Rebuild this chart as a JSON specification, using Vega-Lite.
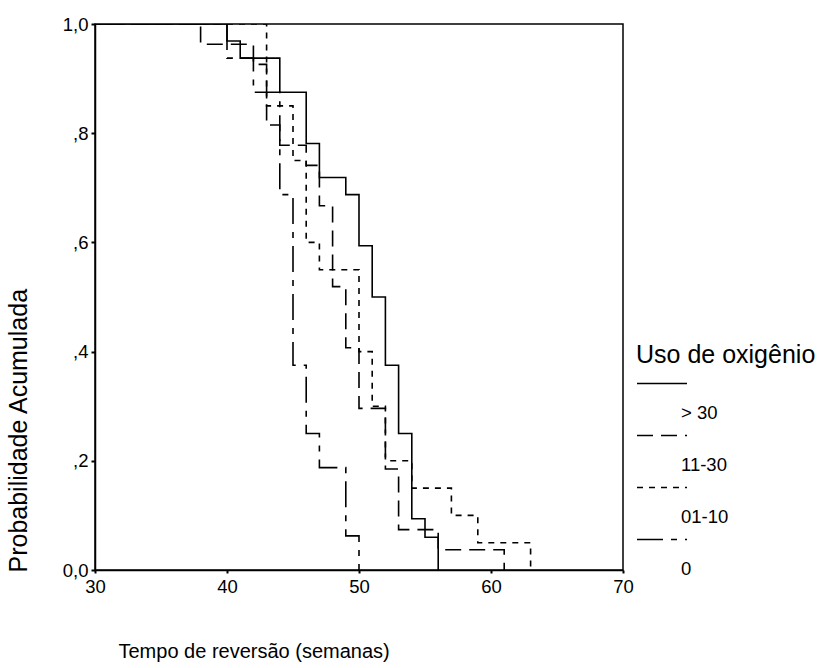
{
  "$schema": "https://vega.github.io/schema/vega-lite/v6.json",
  "width": 528,
  "height": 546,
  "autosize": {"type": "none"},
  "padding": {"left": 95, "top": 24, "right": 201, "bottom": 98},
  "background": "white",
  "config": {"font": "Liberation Sans", "view": {"stroke": "black", "strokeWidth": 1.5}},
  "data": {
    "values": [
      {"grupo": "> 30", "tempo": 0, "prob": 1},
      {"grupo": "> 30", "tempo": 40, "prob": 0.969},
      {"grupo": "> 30", "tempo": 41, "prob": 0.9375},
      {"grupo": "> 30", "tempo": 44, "prob": 0.875},
      {"grupo": "> 30", "tempo": 46, "prob": 0.781},
      {"grupo": "> 30", "tempo": 47, "prob": 0.719},
      {"grupo": "> 30", "tempo": 49, "prob": 0.6875},
      {"grupo": "> 30", "tempo": 50, "prob": 0.594},
      {"grupo": "> 30", "tempo": 51, "prob": 0.5},
      {"grupo": "> 30", "tempo": 52, "prob": 0.375},
      {"grupo": "> 30", "tempo": 53, "prob": 0.25},
      {"grupo": "> 30", "tempo": 54, "prob": 0.094},
      {"grupo": "> 30", "tempo": 55, "prob": 0.06},
      {"grupo": "> 30", "tempo": 56, "prob": 0},
      {"grupo": "11-30", "tempo": 0, "prob": 1},
      {"grupo": "11-30", "tempo": 38, "prob": 0.963},
      {"grupo": "11-30", "tempo": 42, "prob": 0.926},
      {"grupo": "11-30", "tempo": 43, "prob": 0.815},
      {"grupo": "11-30", "tempo": 44, "prob": 0.778},
      {"grupo": "11-30", "tempo": 46, "prob": 0.741},
      {"grupo": "11-30", "tempo": 47, "prob": 0.667},
      {"grupo": "11-30", "tempo": 48, "prob": 0.519},
      {"grupo": "11-30", "tempo": 49, "prob": 0.407},
      {"grupo": "11-30", "tempo": 50, "prob": 0.296},
      {"grupo": "11-30", "tempo": 52, "prob": 0.185},
      {"grupo": "11-30", "tempo": 53, "prob": 0.074},
      {"grupo": "11-30", "tempo": 56, "prob": 0.037},
      {"grupo": "11-30", "tempo": 61, "prob": 0},
      {"grupo": "01-10", "tempo": 0, "prob": 1},
      {"grupo": "01-10", "tempo": 43, "prob": 0.85},
      {"grupo": "01-10", "tempo": 45, "prob": 0.75},
      {"grupo": "01-10", "tempo": 46, "prob": 0.6},
      {"grupo": "01-10", "tempo": 47, "prob": 0.55},
      {"grupo": "01-10", "tempo": 50, "prob": 0.4},
      {"grupo": "01-10", "tempo": 51, "prob": 0.3},
      {"grupo": "01-10", "tempo": 52, "prob": 0.2},
      {"grupo": "01-10", "tempo": 54, "prob": 0.15},
      {"grupo": "01-10", "tempo": 57, "prob": 0.1},
      {"grupo": "01-10", "tempo": 59, "prob": 0.05},
      {"grupo": "01-10", "tempo": 63, "prob": 0},
      {"grupo": "0", "tempo": 0, "prob": 1},
      {"grupo": "0", "tempo": 40, "prob": 0.9375},
      {"grupo": "0", "tempo": 42, "prob": 0.875},
      {"grupo": "0", "tempo": 44, "prob": 0.6875},
      {"grupo": "0", "tempo": 45, "prob": 0.375},
      {"grupo": "0", "tempo": 46, "prob": 0.25},
      {"grupo": "0", "tempo": 47, "prob": 0.1875},
      {"grupo": "0", "tempo": 49, "prob": 0.0625},
      {"grupo": "0", "tempo": 50, "prob": 0}
    ]
  },
  "mark": {"type": "line", "interpolate": "step-after", "clip": true, "color": "black", "strokeWidth": 1.6},
  "encoding": {
    "x": {
      "field": "tempo", "type": "quantitative",
      "scale": {"domain": [30, 70], "nice": false, "zero": false},
      "axis": {
        "values": [30, 40, 50, 60, 70], "grid": false,
        "domainColor": "black", "domainWidth": 1.5,
        "tickColor": "black", "tickSize": 3, "tickWidth": 2,
        "labelFontSize": 18.5, "labelColor": "black", "labelPadding": 4,
        "labelFlush": false, "labelOverlap": false,
        "title": "Tempo de reversão (semanas)", "titleFontSize": 20,
        "titleFontWeight": "normal", "titleColor": "black",
        "titleAlign": "left", "titleBaseline": "alphabetic",
        "titleX": 23, "titleY": 87
      }
    },
    "y": {
      "field": "prob", "type": "quantitative",
      "scale": {"domain": [0, 1], "nice": false},
      "axis": {
        "values": [0, 0.2, 0.4, 0.6, 0.8, 1], "grid": false,
        "labelExpr": "datum.value == 0 ? '0,0' : (datum.value == 1 ? '1,0' : ',' + format(datum.value * 10, '.0f'))",
        "domainColor": "black", "domainWidth": 1.5,
        "tickColor": "black", "tickSize": 4, "tickWidth": 2,
        "labelFontSize": 18.5, "labelColor": "black", "labelPadding": 3,
        "labelFlush": false, "labelOverlap": false,
        "title": "Probabilidade Acumulada", "titleFontSize": 25,
        "titleFontWeight": "normal", "titleColor": "black",
        "titleAngle": 270, "titleAlign": "left", "titleBaseline": "middle",
        "titleX": -77, "titleY": 548
      }
    },
    "strokeDash": {
      "field": "grupo", "type": "nominal",
      "scale": {"domain": ["> 30", "11-30", "01-10", "0"], "range": [[1, 0], [16, 8], [6, 6], [26, 8, 6, 8]]},
      "legend": {
        "orient": "none", "legendX": 541.5, "legendY": 319,
        "title": "Uso de oxigênio", "titleFontSize": 25, "titleFontWeight": "normal",
        "titleColor": "black", "titlePadding": 2,
        "labelFontSize": 18.5, "labelColor": "black", "labelOffset": 5.5,
        "symbolType": "M-2,0H2", "symbolSize": 625, "symbolStrokeWidth": 1.5,
        "symbolStrokeColor": "black", "rowPadding": -1, "padding": 0,
        "encode": {
          "labels": {"update": {"dy": {"value": 29}}},
          "title": {"update": {"dx": {"value": -12.5}}}
        }
      }
    }
  }
}
